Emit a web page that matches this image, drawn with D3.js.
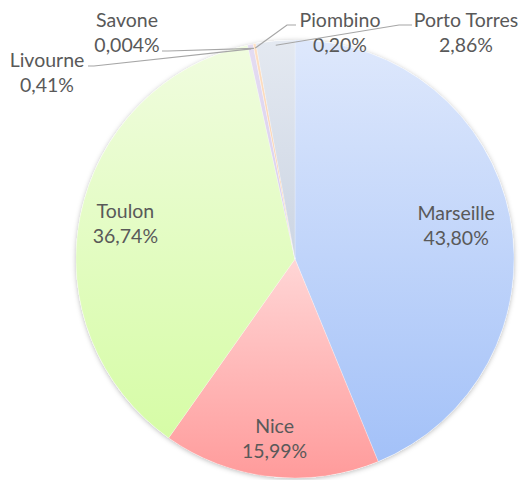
<!DOCTYPE html>
<html><head><meta charset="utf-8">
<script src="https://cdn.jsdelivr.net/npm/d3@7"></script>
<style>body{margin:0;background:#fff}svg{display:block}</style>
</head><body>
<svg id="c" width="520" height="480"></svg>
<script>
const categories = ["Marseille","Nice","Toulon","Livourne","Savone","Piombino","Porto Torres"];
const values = [43.80, 15.99, 36.74, 0.41, 0.004, 0.20, 2.86];
const labels = ["43,80%","15,99%","36,74%","0,41%","0,004%","0,20%","2,86%"];
const colorsTop = ["#dee8fc","#ffd6d6","#f0fcdf","#e4dcf2","#e0d8ee","#fde0c4","#e4e9f1"];
const colorsBot = ["#a3c1f8","#ff9b9b","#d6fca6","#d8cdee","#d0c8e8","#f8c49c","#ccd5e3"];

const W = 520, H = 480, cx = 295, cy = 259, R = 219;
const svg = d3.select("#c");
const defs = svg.append("defs");
const f = defs.append("filter").attr("id","sh").attr("x","-10%").attr("y","-10%").attr("width","120%").attr("height","120%");
f.append("feDropShadow").attr("dx",0).attr("dy",1).attr("stdDeviation",2.5).attr("flood-color","#000").attr("flood-opacity",0.28);

categories.forEach((c,i)=>{
  const g = defs.append("linearGradient").attr("id","g"+i).attr("x1",0).attr("y1",0).attr("x2",0).attr("y2",1);
  g.append("stop").attr("offset","0%").attr("stop-color",colorsTop[i]);
  g.append("stop").attr("offset","100%").attr("stop-color",colorsBot[i]);
});

const data = categories.map((c,i)=>({name:c, value:values[i], label:labels[i], i}));
const pie = d3.pie().value(d=>d.value).sort(null);
const arcs = pie(data);
const arc = d3.arc().innerRadius(0).outerRadius(R);
const g = svg.append("g").attr("transform",`translate(${cx},${cy})`);
g.append("circle").attr("r",R).attr("fill","#fff").attr("filter","url(#sh)");
g.selectAll("path.s").data(arcs).join("path").attr("class","s")
  .attr("d",arc).attr("fill",d=>`url(#g${d.data.i})`)
  .attr("stroke","rgba(255,255,255,0.5)").attr("stroke-width",0.5);

const font = "Lato, 'Noto Sans', sans-serif";
const fs = 19.5;
// inside labels
const insideR = {0:0.75, 1:0.83, 2:0.79};
Object.keys(insideR).forEach(k=>{
  const i = +k;
  const a = d3.arc().innerRadius(R*insideR[k]).outerRadius(R*insideR[k]);
  const [x,y] = a.centroid(arcs[i]);
  const t = g.append("text").attr("text-anchor","middle").attr("font-family",font).attr("font-size",fs).attr("fill","#595959");
  t.append("tspan").attr("x",x).attr("y",y-7).text(categories[i]);
  t.append("tspan").attr("x",x).attr("y",y+18).text(labels[i]);
});
// outside labels with leader lines
const outside = {
  3: {x:47, y:67, line:[[88,66],[94,66]]},
  4: {x:127, y:27, line:[[162,51],[168,51]]},
  5: {x:340, y:27, line:[[296,25],[287,25]]},
  6: {x:466, y:27, line:[[412,25],[399,25]]}
};
const outer = d3.arc().innerRadius(R*0.98).outerRadius(R*0.98);
Object.keys(outside).forEach(k=>{
  const i = +k, o = outside[k];
  const [ax,ay] = outer.centroid(arcs[i]);
  const pts = o.line.concat([[ax+cx, ay+cy]]);
  svg.append("path").attr("d",d3.line()(pts)).attr("fill","none").attr("stroke","#a6a6a6").attr("stroke-width",1.2);
  const t = svg.append("text").attr("text-anchor","middle").attr("font-family",font).attr("font-size",fs).attr("fill","#595959");
  t.append("tspan").attr("x",o.x).attr("y",o.y).text(categories[i]);
  t.append("tspan").attr("x",o.x).attr("y",o.y+25).text(labels[i]);
});
</script>
</body></html>
